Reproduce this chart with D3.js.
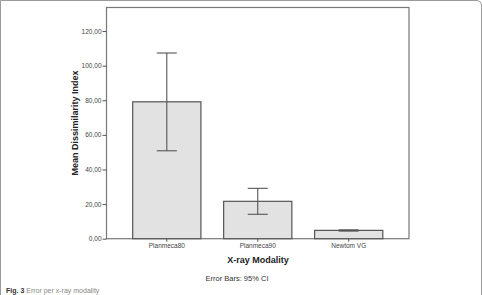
<!DOCTYPE html>
<html>
<head>
<meta charset="utf-8">
<script src="https://cdn.jsdelivr.net/npm/d3@7"></script>
<style>
  body { margin: 0; background: #fff; }
  svg text { font-family: "Liberation Sans", Arial, sans-serif; }
</style>
</head>
<body>
<div id="chart"></div>
<script>
var modalities = ["Planmeca80", "Planmeca90", "Newtom VG"];
var means = [79.1, 21.6, 4.8];
var ciLow = [50.8, 14.1, 4.4];
var ciHigh = [107.3, 29.1, 5.1];
var yTicks = [0, 20, 40, 60, 80, 100, 120];

(function () {
    var width = 482, height = 295;
    var plotL = 106.5, plotR = 409, plotT = 7.5, plotB = 238.7;

    var svg = d3.select("#chart").append("svg")
        .attr("width", width)
        .attr("height", height);

    // card outline
    svg.append("path")
        .attr("d", "M0.5,300 L0.5,0.5 L476,0.5 Q481.5,0.5 481.5,6 L481.5,300")
        .attr("fill", "none")
        .attr("stroke", "#9a9a9a")
        .attr("stroke-width", 1);

    var y = d3.scaleLinear().domain([0, 133.6]).range([plotB, plotT]);
    var x = d3.scaleBand().domain(modalities).range([plotL, plotR])
        .paddingInner(0.25).paddingOuter(0.288);

    var data = modalities.map(function (m, i) {
        return { name: m, mean: means[i], lo: ciLow[i], hi: ciHigh[i] };
    });

    // plot frame
    svg.append("rect")
        .attr("x", plotL).attr("y", plotT)
        .attr("width", plotR - plotL).attr("height", plotB - plotT)
        .attr("fill", "none")
        .attr("stroke", "#777")
        .attr("stroke-width", 1.2);

    // bars
    svg.selectAll(".bar")
        .data(data)
        .enter().append("rect")
        .attr("class", "bar")
        .attr("x", function (d) { return x(d.name); })
        .attr("y", function (d) { return y(d.mean); })
        .attr("width", x.bandwidth())
        .attr("height", function (d) { return y(0) - y(d.mean); })
        .attr("fill", "#e2e2e2")
        .attr("stroke", "#555")
        .attr("stroke-width", 1.2);

    // error bars
    var cap = 10;
    var cx = function (d) { return x(d.name) + x.bandwidth() / 2; };
    var eb = svg.selectAll(".err").data(data).enter().append("g").attr("class", "err")
        .attr("stroke", "#555").attr("stroke-width", 1.1);
    eb.append("line")
        .attr("x1", cx).attr("x2", cx)
        .attr("y1", function (d) { return y(d.lo); })
        .attr("y2", function (d) { return y(d.hi); });
    eb.append("line")
        .attr("x1", function (d) { return cx(d) - cap; })
        .attr("x2", function (d) { return cx(d) + cap; })
        .attr("y1", function (d) { return y(d.hi); })
        .attr("y2", function (d) { return y(d.hi); });
    eb.append("line")
        .attr("x1", function (d) { return cx(d) - cap; })
        .attr("x2", function (d) { return cx(d) + cap; })
        .attr("y1", function (d) { return y(d.lo); })
        .attr("y2", function (d) { return y(d.lo); });

    // y axis
    var yAxis = svg.append("g")
        .attr("transform", "translate(" + plotL + ",0)")
        .call(d3.axisLeft(y).tickValues(yTicks).tickSize(4).tickPadding(1)
            .tickFormat(function (d) { return d3.format(".2f")(d).replace(".", ","); }));
    yAxis.select(".domain").remove();
    yAxis.selectAll("line").attr("stroke", "#555");
    yAxis.selectAll("text").attr("font-size", "6.5px").attr("fill", "#444")
        .attr("font-family", "Liberation Sans, Arial, sans-serif");

    // x axis
    var xAxis = svg.append("g")
        .attr("transform", "translate(0," + plotB + ")")
        .call(d3.axisBottom(x).tickSize(3).tickPadding(2));
    xAxis.select(".domain").remove();
    xAxis.selectAll("line").attr("stroke", "#555");
    xAxis.selectAll("text").attr("font-size", "6.5px").attr("fill", "#444")
        .attr("font-family", "Liberation Sans, Arial, sans-serif");

    // titles
    svg.append("text")
        .attr("transform", "translate(77.5," + (plotT + plotB) / 2 + ") rotate(-90)")
        .attr("text-anchor", "middle")
        .attr("font-size", "9px")
        .attr("font-weight", "bold")
        .attr("fill", "#222")
        .text("Mean Dissimilarity Index");

    svg.append("text")
        .attr("x", 258).attr("y", 263)
        .attr("text-anchor", "middle")
        .attr("font-size", "9px")
        .attr("font-weight", "bold")
        .attr("fill", "#222")
        .text("X-ray Modality");

    svg.append("text")
        .attr("x", 237).attr("y", 280.5)
        .attr("text-anchor", "middle")
        .attr("font-size", "7.5px")
        .attr("fill", "#333")
        .text("Error Bars: 95% CI");

    // caption
    var caption = svg.append("text")
        .attr("x", 6).attr("y", 292.5)
        .attr("font-size", "7px")
        .attr("font-family", "Open Sans, sans-serif");
    caption.append("tspan").attr("font-weight", "bold").attr("fill", "#333").text("Fig. 3");
    caption.append("tspan").attr("fill", "#888").text(" Error per x-ray modality");
})();
</script>
</body>
</html>
